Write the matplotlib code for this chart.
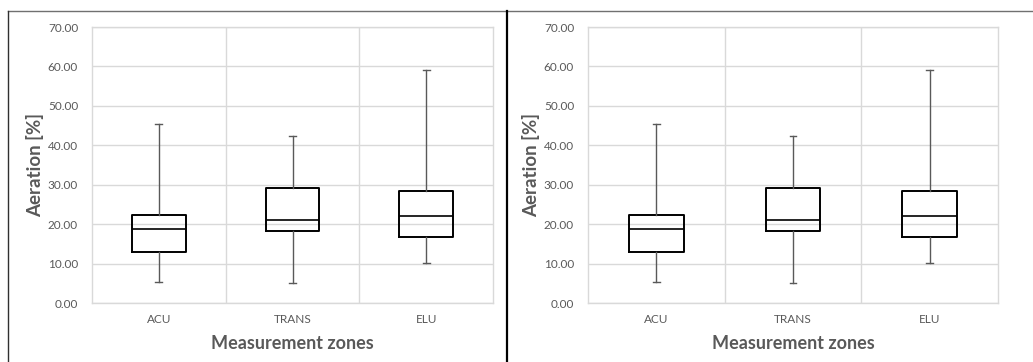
import matplotlib
matplotlib.use("Agg")
import matplotlib.pyplot as plt
from matplotlib.lines import Line2D

zones = ["ACU", "TRANS", "ELU"]
whislo = [5.3, 5.1, 10.2]
q1 = [12.9, 18.3, 16.7]
med = [18.7, 21.1, 22.0]
q3 = [22.3, 29.1, 28.5]
whishi = [45.5, 42.4, 59.0]
yticks = [0, 10, 20, 30, 40, 50, 60, 70]

plt.rcParams['font.family'] = ['Lato', 'DejaVu Sans']
grey = "#595959"
grid = "#d9d9d9"

fig = plt.figure(figsize=(10.33, 3.62), dpi=100)
fig.patch.set_facecolor("white")

stats = []
for i in range(len(zones)):
    stats.append(dict(label=zones[i], whislo=whislo[i], q1=q1[i], med=med[i],
                      q3=q3[i], whishi=whishi[i], fliers=[]))


def draw(ax):
    ax.bxp(stats, positions=[1, 2, 3], widths=0.4, showfliers=False,
           boxprops=dict(color="black", linewidth=1.4),
           medianprops=dict(color="black", linewidth=1.2),
           whiskerprops=dict(color=grey, linewidth=1.0),
           capprops=dict(color=grey, linewidth=1.0), capwidths=0.05)
    ax.set_xlim(0.5, 3.5)
    ax.set_ylim(0, 70)
    ax.set_yticks(yticks)
    ax.set_yticklabels(["%.2f" % t for t in yticks])
    for x in [1.5, 2.5]:
        ax.axvline(x, color=grid, linewidth=1.0, zorder=0)
    ax.yaxis.grid(True, color=grid, linewidth=1.0, zorder=0)
    ax.set_axisbelow(True)
    for s in ax.spines.values():
        s.set_color(grid)
        s.set_linewidth(1.0)
    ax.tick_params(axis="both", length=0, colors=grey, labelsize=8.5)
    ax.tick_params(axis="y", pad=10)
    ax.tick_params(axis="x", pad=8)
    ax.set_ylabel("Aeration [%]", fontsize=13.5, fontweight="bold", color=grey, labelpad=3)
    ax.set_xlabel("Measurement zones", fontsize=13, fontweight="bold", color=grey, labelpad=7)


ax1 = fig.add_axes([92 / 1033, 1 - 303 / 362, 401 / 1033, 276 / 362])
draw(ax1)
ax2 = fig.add_axes([588 / 1033, 1 - 303 / 362, 410 / 1033, 276 / 362])
draw(ax2)

# panel borders
fig.add_artist(Line2D([8 / 1033, 1], [1 - 11 / 362, 1 - 11 / 362], color="#707070", linewidth=1.0))
fig.add_artist(Line2D([8 / 1033, 8 / 1033], [0, 1 - 11 / 362], color="#303030", linewidth=1.0))
fig.add_artist(Line2D([507 / 1033, 507 / 1033], [0, 1 - 11 / 362], color="black", linewidth=1.6))

fig.savefig("out.png", dpi=100)
